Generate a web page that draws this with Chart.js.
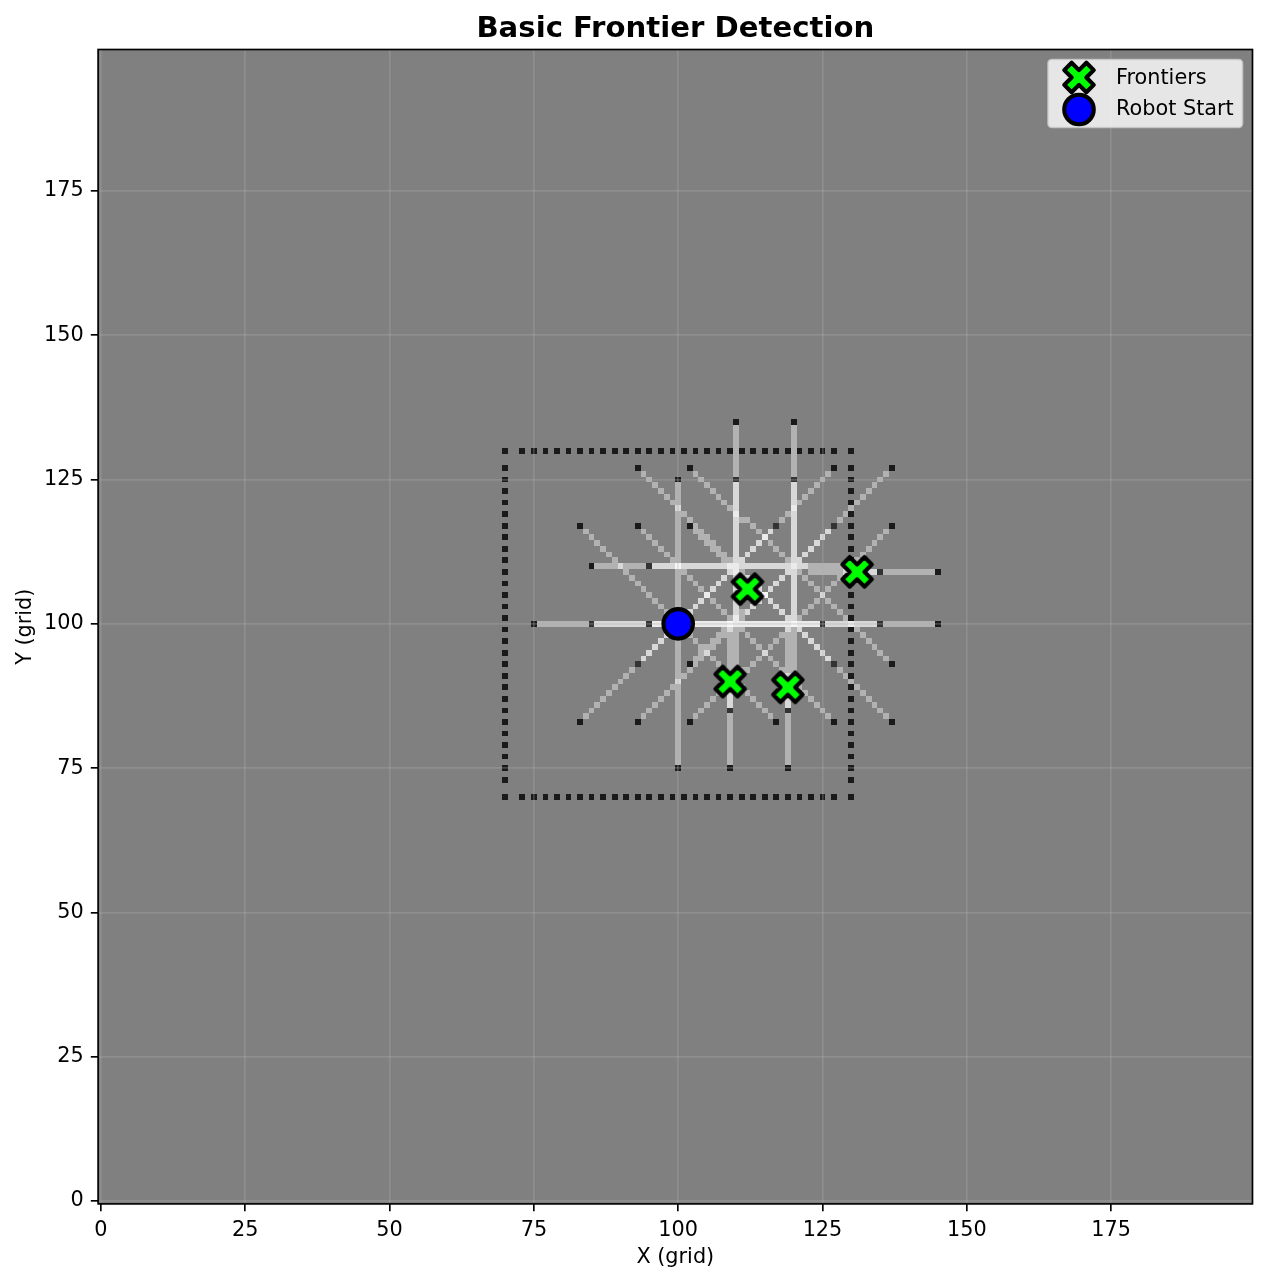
<!DOCTYPE html>
<html>
<head>
<meta charset="utf-8">
<title>Basic Frontier Detection</title>
<script src="https://cdn.jsdelivr.net/npm/chart.js@4/dist/chart.umd.min.js"></script>
<style>
  html, body { margin: 0; padding: 0; background: #fff; }
  canvas { display: block; }
</style>
</head>
<body>
<canvas id="chart" width="1267" height="1282"></canvas>
<script>
// Values, all in grid units
const tickValues = [0, 25, 50, 75, 100, 125, 150, 175];

const frontierX = [112, 131, 109, 119];
const frontierY = [106, 109, 90, 89];
const robotX = [100];
const robotY = [100];

// Free space seen by the scans, as runs of cells: [x0, y0, x1, y1]
const horizontalRuns = [
  [76, 100, 99, 100], [101, 100, 124, 100], [86, 100, 109, 100],
  [111, 100, 134, 100], [96, 100, 119, 100], [121, 100, 144, 100],
  [86, 110, 109, 110], [111, 110, 122, 110], [123, 109, 134, 109],
  [96, 110, 119, 110], [121, 110, 130, 110], [131, 109, 144, 109],
  [112, 108, 111, 108], [112, 92, 111, 92], [112, 118, 111, 118], [112, 102, 111, 102]
];
const verticalRuns = [
  [100, 101, 100, 124], [100, 76, 100, 99],
  [110, 101, 110, 124], [110, 91, 110, 99], [109, 76, 109, 90],
  [110, 111, 110, 134], [110, 100, 110, 109], [109, 86, 109, 99],
  [120, 101, 120, 124], [120, 91, 120, 99], [119, 76, 119, 90],
  [120, 111, 120, 134], [120, 100, 120, 109], [119, 86, 119, 99]
];
const diagonalRuns = [
  [99, 101, 84, 116], [101, 101, 116, 116], [99, 99, 84, 84], [101, 99, 116, 84],
  [109, 101, 94, 116], [111, 101, 126, 116], [109, 99, 94, 84], [111, 99, 126, 84],
  [119, 101, 113, 107], [110, 109, 103, 116], [121, 101, 136, 116],
  [119, 99, 113, 93], [110, 91, 103, 84], [121, 99, 136, 84],
  [109, 111, 94, 126], [111, 111, 126, 126], [109, 109, 94, 94], [111, 109, 126, 94],
  [119, 111, 113, 117], [110, 119, 103, 126], [121, 111, 136, 126],
  [119, 109, 113, 103], [110, 101, 103, 94], [121, 109, 136, 94]
];

// Occupied cells at the far end of each ray
const rayEnds = [
  [75, 100], [85, 100], [95, 100], [125, 100], [135, 100], [145, 100],
  [85, 110], [95, 110], [135, 109], [145, 109],
  [100, 75], [100, 125], [110, 125], [110, 135], [109, 75], [109, 85],
  [120, 125], [120, 135], [119, 75], [119, 85],
  [83, 117], [117, 117], [83, 83], [117, 83],
  [93, 117], [127, 117], [93, 83], [127, 83],
  [102, 117], [137, 117], [102, 83], [137, 83],
  [93, 127], [127, 127], [93, 93], [127, 93],
  [102, 127], [137, 127], [102, 93], [137, 93]
];

// The dotted wall: same positions on all four sides
const wallLow = 70;
const wallHigh = 130;
const wallPositions = [70, 73, 75, 77, 79, 81, 83, 85, 87, 89, 91, 93, 95, 97, 99, 101,
  103, 105, 107, 109, 111, 113, 115, 117, 119, 121, 123, 125, 127, 130];

// Gray for a free cell by how many times it was seen
const hitGrays = [128, 178, 216, 235, 246, 251, 254, 255];
const FONT = '"DejaVu Sans"';

const freeHits = new Map();
const occupied = new Set();

[...horizontalRuns, ...verticalRuns, ...diagonalRuns].forEach(([x0, y0, x1, y1]) => {
  const steps = Math.max(Math.abs(x1 - x0), Math.abs(y1 - y0));
  for (let i = 0; i <= steps; i++) {
    const x = x0 + Math.sign(x1 - x0) * i;
    const y = y0 + Math.sign(y1 - y0) * i;
    const key = x + ',' + y;
    freeHits.set(key, (freeHits.get(key) || 0) + 1);
  }
});
rayEnds.forEach(([x, y]) => occupied.add(x + ',' + y));
wallPositions.forEach(p => {
  occupied.add(p + ',' + wallLow);
  occupied.add(p + ',' + wallHigh);
  occupied.add(wallLow + ',' + p);
  occupied.add(wallHigh + ',' + p);
});

function cellGray(key) {
  if (occupied.has(key)) return freeHits.has(key) ? 51 : 26;
  return hitGrays[Math.min(freeHits.get(key), hitGrays.length - 1)];
}

// Filled X marker, same shape matplotlib uses
const X_SHAPE = [[-1, -2], [0, -1], [1, -2], [2, -1], [1, 0], [2, 1], [1, 2], [0, 1], [-1, 2], [-2, 1], [-1, 0], [-2, -1]];
function drawX(ctx, cx, cy) {
  ctx.save();
  ctx.beginPath();
  X_SHAPE.forEach(([px, py], i) => {
    const x = cx + px * 7.37;
    const y = cy + py * 7.37;
    if (i === 0) ctx.moveTo(x, y); else ctx.lineTo(x, y);
  });
  ctx.closePath();
  ctx.fillStyle = '#00ff00';
  ctx.strokeStyle = '#000';
  ctx.lineWidth = 4.17;
  ctx.lineJoin = 'round';
  ctx.fill();
  ctx.stroke();
  ctx.restore();
}

const xMarker = document.createElement('canvas');
xMarker.width = 44;
xMarker.height = 44;
drawX(xMarker.getContext('2d'), 22, 22);

// Gray map goes under the grid, like an imshow with the grid on top
const mapPlugin = {
  id: 'mapPlugin',
  beforeDraw(chart) {
    const { ctx, chartArea: a, scales: { x: sx, y: sy } } = chart;
    ctx.save();
    ctx.fillStyle = 'rgb(128,128,128)';
    ctx.fillRect(a.left, a.top, a.right - a.left, a.bottom - a.top);
    new Set([...freeHits.keys(), ...occupied]).forEach(key => {
      const [x, y] = key.split(',').map(Number);
      const left = Math.round(sx.getPixelForValue(x - 0.5));
      const right = Math.round(sx.getPixelForValue(x + 0.5));
      const top = Math.round(sy.getPixelForValue(y + 0.5));
      const bottom = Math.round(sy.getPixelForValue(y - 0.5));
      const g = cellGray(key);
      ctx.fillStyle = `rgb(${g},${g},${g})`;
      ctx.fillRect(left, top, right - left, bottom - top);
    });
    ctx.restore();
  },
  afterDraw(chart) {
    const { ctx, chartArea: a } = chart;
    ctx.save();
    // axes frame
    ctx.strokeStyle = '#000';
    ctx.lineWidth = 1.67;
    ctx.strokeRect(a.left, a.top, a.right - a.left, a.bottom - a.top);

    // legend box, top right inside the plot
    const boxX = a.right - 204.5;
    const boxY = a.top + 10;
    ctx.beginPath();
    ctx.roundRect(boxX, boxY, 194.5, 68, 4);
    ctx.fillStyle = 'rgba(255,255,255,0.8)';
    ctx.fill();
    ctx.strokeStyle = 'rgba(204,204,204,0.8)';
    ctx.lineWidth = 1.67;
    ctx.stroke();

    drawX(ctx, boxX + 31, boxY + 18);
    ctx.beginPath();
    ctx.arc(boxX + 31, boxY + 50, 14.73, 0, Math.PI * 2);
    ctx.fillStyle = '#0000ff';
    ctx.fill();
    ctx.strokeStyle = '#000';
    ctx.lineWidth = 4.17;
    ctx.stroke();

    ctx.fillStyle = '#000';
    ctx.font = '20.8px ' + FONT;
    ctx.textBaseline = 'alphabetic';
    ctx.fillText(chart.data.datasets[0].label, boxX + 68, boxY + 24);
    ctx.fillText(chart.data.datasets[1].label, boxX + 68, boxY + 55);
    ctx.restore();
  }
};

function axisOptions(titleText, titlePadding) {
  return {
    type: 'linear',
    min: -0.5,
    max: 199.5,
    afterBuildTicks: scale => { scale.ticks = tickValues.map(v => ({ value: v })); },
    grid: {
      color: 'rgba(176,176,176,0.3)',
      lineWidth: 1.67,
      tickColor: '#000',
      tickWidth: 1.67,
      tickLength: 7.3
    },
    border: { display: false },
    ticks: {
      color: '#000',
      font: { family: FONT, size: 20.8 },
      padding: 7,
      maxRotation: 0,
      autoSkip: false
    },
    title: {
      display: true,
      text: titleText,
      color: '#000',
      font: { family: FONT, size: 20.8 },
      padding: titlePadding
    }
  };
}

const xAxis = axisOptions('X (grid)', { top: 0, bottom: 11.5 });
xAxis.afterFit = scale => {
  scale.height = 78.1;
  // no room needed for the last label, 175 sits well inside the axis
  scale.paddingLeft = 0;
  scale.paddingRight = 0;
};
const yAxis = axisOptions('Y (grid)', { top: 13.5, bottom: 0 });
yAxis.afterFit = scale => {
  scale.width = 98.1;
  scale.paddingTop = 0;
  scale.paddingBottom = 0;
};

new Chart(document.getElementById('chart'), {
  type: 'scatter',
  data: {
    datasets: [
      {
        label: 'Frontiers',
        data: frontierX.map((x, i) => ({ x, y: frontierY[i] })),
        pointStyle: xMarker,
        pointRadius: 15
      },
      {
        label: 'Robot Start',
        data: robotX.map((x, i) => ({ x, y: robotY[i] })),
        pointStyle: 'circle',
        pointRadius: 14.73,
        pointBackgroundColor: '#0000ff',
        pointBorderColor: '#000',
        pointBorderWidth: 4.17
      }
    ]
  },
  options: {
    responsive: false,
    animation: false,
    devicePixelRatio: 1,
    layout: { autoPadding: false, padding: { left: 0, right: 14.5, top: 0, bottom: 0 } },
    scales: { x: xAxis, y: yAxis },
    plugins: {
      legend: { display: false },
      tooltip: { enabled: false },
      title: {
        display: true,
        text: 'Basic Frontier Detection',
        color: '#000',
        fullSize: false,
        font: { family: FONT, size: 29.17, weight: 'bold' },
        padding: { top: 11.5, bottom: 3 }
      }
    }
  },
  plugins: [mapPlugin]
});
</script>
</body>
</html>
